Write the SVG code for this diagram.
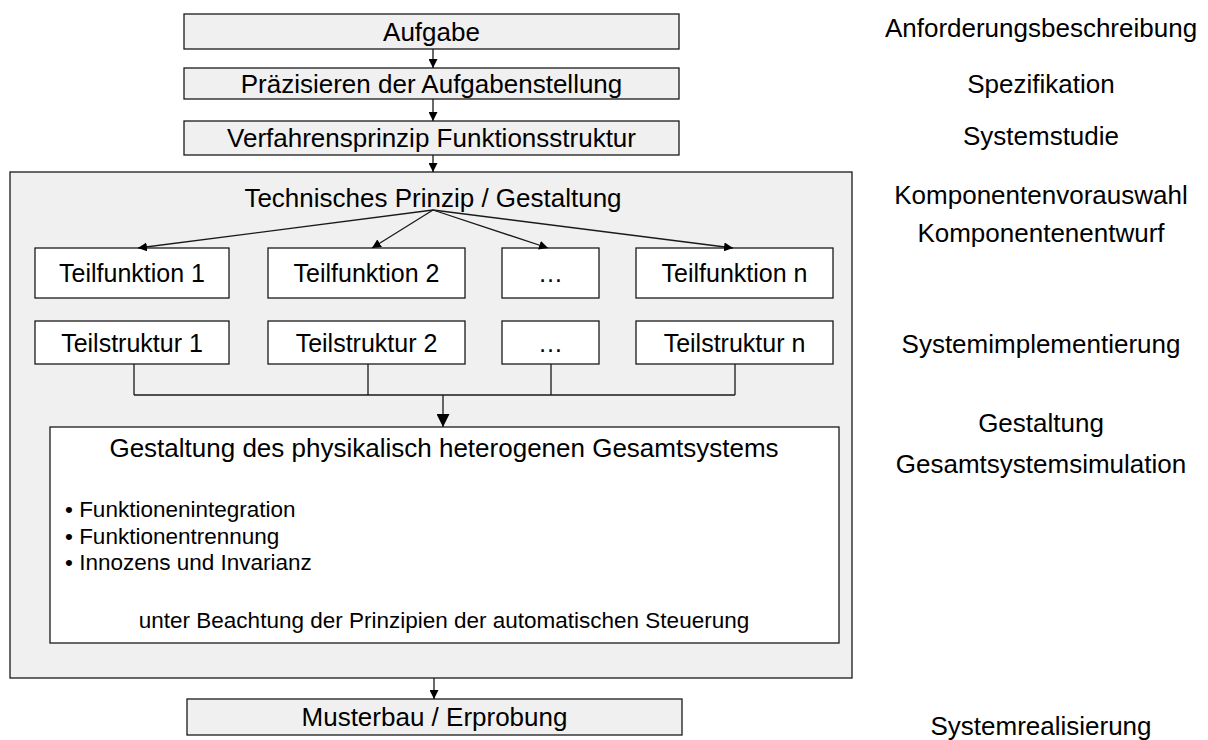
<svg xmlns="http://www.w3.org/2000/svg" width="1208" height="740" viewBox="0 0 1208 740">
  <style>
    text { font-family: "Liberation Sans", Arial, sans-serif; fill: #000; }
    .box { stroke: #1a1a1a; stroke-width: 1.3; }
    .grey { fill: #f0f0f0; }
    .white { fill: #ffffff; }
    .t26 { font-size: 26px; text-anchor: middle; }
    .t25 { font-size: 25px; text-anchor: middle; }
    .t22 { font-size: 22.5px; }
    .side { font-size: 26px; text-anchor: middle; }
    .conn { fill: none; stroke: #1a1a1a; stroke-width: 1.3; }
  </style>
  <defs>
    <marker id="ah" viewBox="0 0 10 10" refX="10" refY="5" markerWidth="9" markerHeight="9" markerUnits="userSpaceOnUse" orient="auto">
      <path d="M0,0 L10,5 L0,10 z" fill="#000"/>
    </marker>
    <marker id="ah-big" viewBox="0 0 10 10" refX="10" refY="5" markerWidth="13" markerHeight="13" markerUnits="userSpaceOnUse" orient="auto">
      <path d="M0,0 L10,5 L0,10 z" fill="#000"/>
    </marker>
  </defs>

  <rect width="1208" height="740" fill="#ffffff"/>

  <!-- outer frame of the design phase -->
  <g id="design-frame">
    <rect class="box grey" x="10" y="172" width="842" height="506"/>
    <text class="t26" x="433" y="207">Technisches Prinzip / Gestaltung</text>
  </g>

  <g id="aufgabe">
    <rect class="box grey" x="184" y="14" width="495" height="35"/>
    <text class="t26" x="431.5" y="41">Aufgabe</text>
  </g>
  <g id="praezisieren">
    <rect class="box grey" x="184" y="68" width="495" height="31"/>
    <text class="t26" x="431.5" y="93">Präzisieren der Aufgabenstellung</text>
  </g>
  <g id="verfahrensprinzip">
    <rect class="box grey" x="184" y="121" width="495" height="34"/>
    <text class="t26" x="431.5" y="147">Verfahrensprinzip Funktionsstruktur</text>
  </g>

  <g id="teilfunktion-1">
    <rect class="box white" x="35" y="248" width="194" height="50"/>
    <text class="t25" x="132" y="282">Teilfunktion 1</text>
  </g>
  <g id="teilfunktion-2">
    <rect class="box white" x="268" y="248" width="197" height="50"/>
    <text class="t25" x="366.5" y="282">Teilfunktion 2</text>
  </g>
  <g id="teilfunktion-dots">
    <rect class="box white" x="502" y="248" width="97" height="50"/>
    <text class="t25" x="550.5" y="282">…</text>
  </g>
  <g id="teilfunktion-n">
    <rect class="box white" x="636" y="248" width="197" height="50"/>
    <text class="t25" x="734.5" y="282">Teilfunktion n</text>
  </g>

  <g id="teilstruktur-1">
    <rect class="box white" x="35" y="321" width="194" height="43"/>
    <text class="t25" x="132" y="352">Teilstruktur 1</text>
  </g>
  <g id="teilstruktur-2">
    <rect class="box white" x="268" y="321" width="197" height="43"/>
    <text class="t25" x="366.5" y="352">Teilstruktur 2</text>
  </g>
  <g id="teilstruktur-dots">
    <rect class="box white" x="502" y="321" width="97" height="43"/>
    <text class="t25" x="550.5" y="352">…</text>
  </g>
  <g id="teilstruktur-n">
    <rect class="box white" x="636" y="321" width="197" height="43"/>
    <text class="t25" x="734.5" y="352">Teilstruktur n</text>
  </g>

  <g id="gesamtsystem">
    <rect class="box white" x="50" y="427" width="789" height="216"/>
    <text class="t26" x="444" y="457">Gestaltung des physikalisch heterogenen Gesamtsystems</text>
    <text class="t22" x="65" y="517">• Funktionenintegration</text>
    <text class="t22" x="65" y="544">• Funktionentrennung</text>
    <text class="t22" x="65" y="570">• Innozens und Invarianz</text>
    <text class="t22" x="444" y="628" text-anchor="middle">unter Beachtung der Prinzipien der automatischen Steuerung</text>
  </g>

  <g id="musterbau">
    <rect class="box grey" x="187" y="699" width="495" height="36"/>
    <text class="t26" x="434.5" y="726">Musterbau / Erprobung</text>
  </g>

  <!-- phase labels on the right -->
  <g id="phases">
    <text class="side" x="1041" y="37">Anforderungsbeschreibung</text>
    <text class="side" x="1041" y="93">Spezifikation</text>
    <text class="side" x="1041" y="145">Systemstudie</text>
    <text class="side" x="1041" y="204">Komponentenvorauswahl</text>
    <text class="side" x="1041" y="242">Komponentenentwurf</text>
    <text class="side" x="1041" y="353">Systemimplementierung</text>
    <text class="side" x="1041" y="432">Gestaltung</text>
    <text class="side" x="1041" y="473">Gesamtsystemsimulation</text>
    <text class="side" x="1041" y="735">Systemrealisierung</text>
  </g>

  <g id="connectors">
    <line class="conn" x1="433" y1="49" x2="433" y2="68" marker-end="url(#ah)"/>
    <line class="conn" x1="433" y1="99" x2="433" y2="121" marker-end="url(#ah)"/>
    <line class="conn" x1="433" y1="155" x2="433" y2="172" marker-end="url(#ah)"/>
    <line class="conn" x1="433" y1="210" x2="138" y2="248" marker-end="url(#ah)"/>
    <line class="conn" x1="433" y1="210" x2="372" y2="248" marker-end="url(#ah)"/>
    <line class="conn" x1="433" y1="210" x2="548" y2="248" marker-end="url(#ah)"/>
    <line class="conn" x1="433" y1="210" x2="733" y2="248" marker-end="url(#ah)"/>
    <path class="conn" d="M134,364 V395 M368,364 V395 M551,364 V395 M735,364 V395 M134,395 H735"/>
    <line class="conn" x1="443" y1="395" x2="443" y2="427" stroke-width="2.2" marker-end="url(#ah-big)"/>
    <line class="conn" x1="434" y1="678" x2="434" y2="699" marker-end="url(#ah)"/>
  </g>
</svg>
